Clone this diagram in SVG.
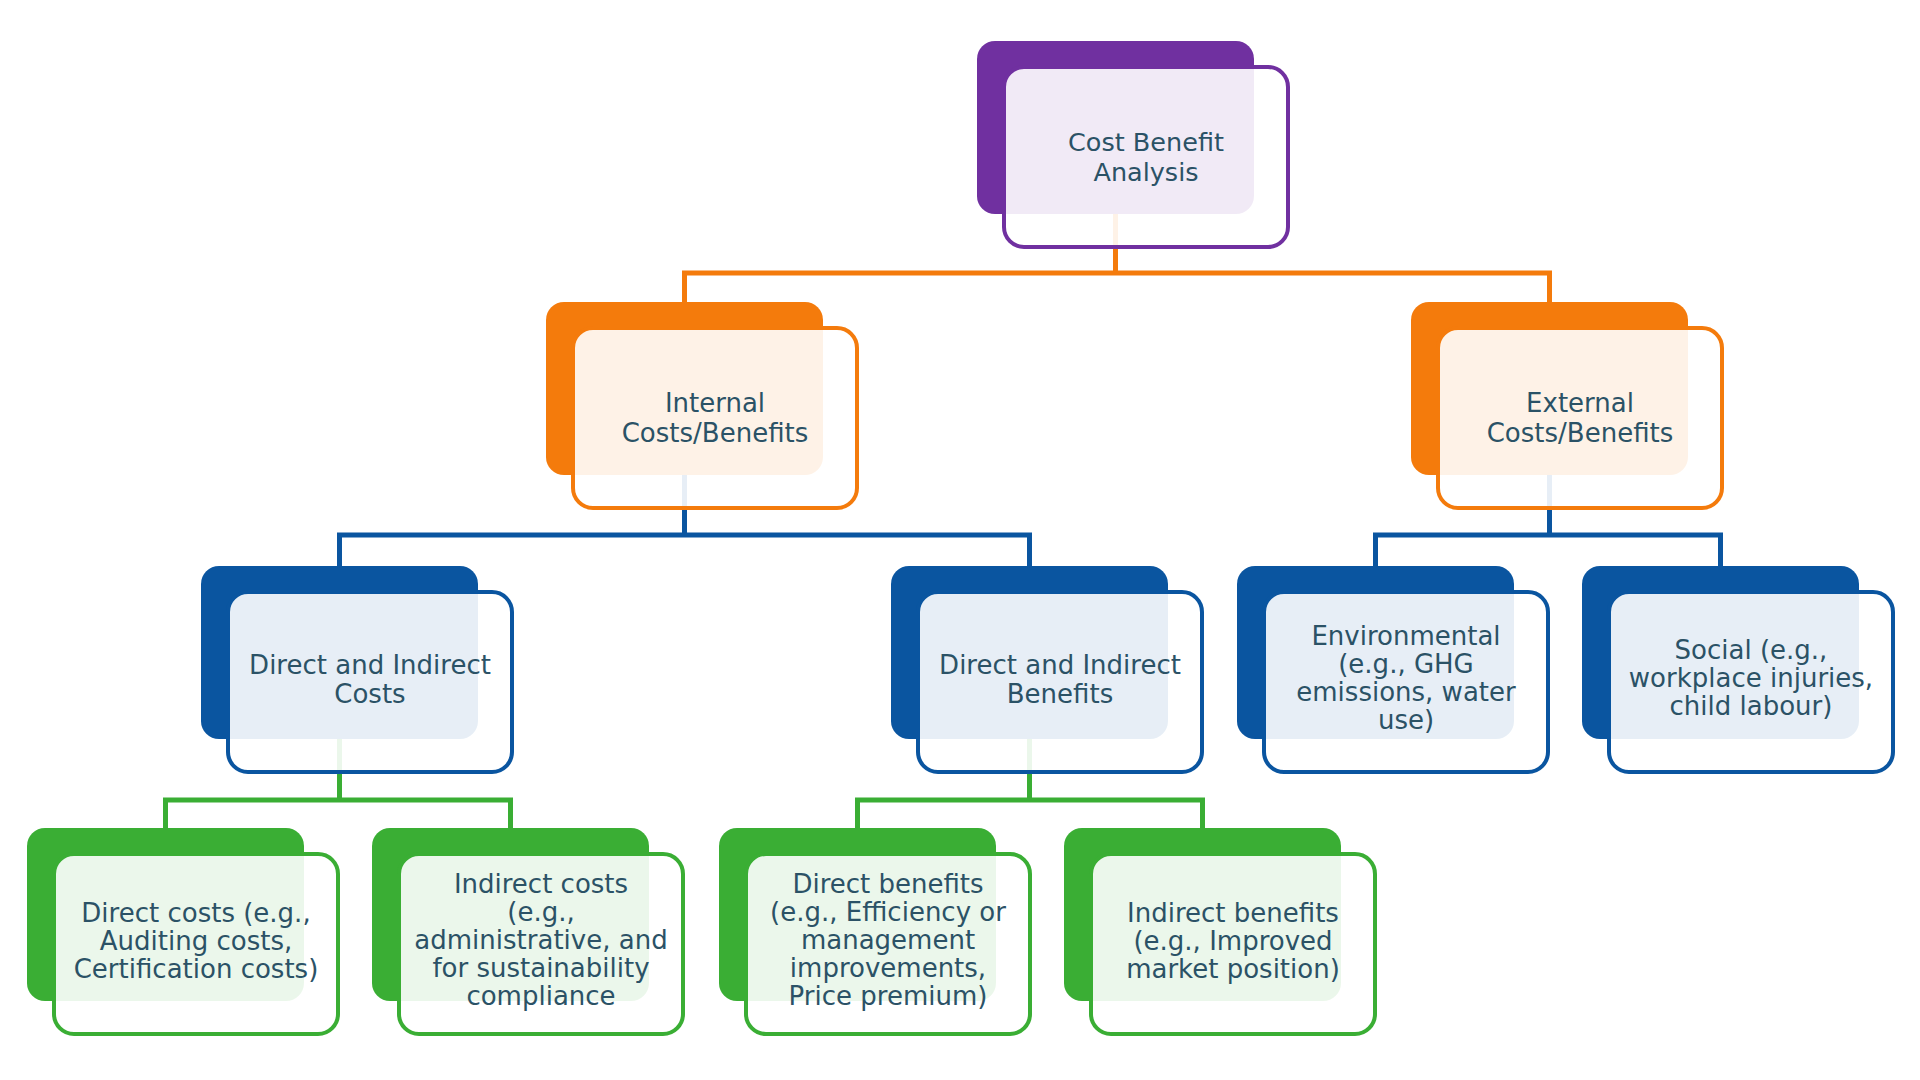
<svg xmlns="http://www.w3.org/2000/svg" width="1920" height="1080" viewBox="0 0 1920 1080">
<style>
.bg{fill:#ffffff}
.back{stroke:none}
.front{fill:#ffffff;fill-opacity:0.9;stroke-width:4}
.purple .back{fill:#7030A0}.purple .front{stroke:#7030A0}
.orange .back{fill:#F47B0C}.orange .front{stroke:#F47B0C}
.blue .back{fill:#0A55A0}.blue .front{stroke:#0A55A0}
.green .back{fill:#3AAE34}.green .front{stroke:#3AAE34}
.conn{fill:none;stroke-width:5;stroke-linejoin:miter}
.c-orange{stroke:#F47B0C}.c-blue{stroke:#0A55A0}.c-green{stroke:#3AAE34}
text{font-family:"DejaVu Sans","Liberation Sans",sans-serif;fill:#2B5266;text-anchor:middle}
.t1{font-size:25.5px}.t2{font-size:26px}.t3{font-size:26px}
</style>
<rect class="bg" x="0" y="0" width="1920" height="1080"/>
<g id="connectors">
<path class="conn c-orange" d="M684.5 302 V273 H1549.5 V302 M1115.5 214 V273"/>
<path class="conn c-blue" d="M339.5 566 V535 H1029.5 V566 M684.5 475 V535"/>
<path class="conn c-blue" d="M1375.5 566 V535 H1720.5 V566 M1549.5 475 V535"/>
<path class="conn c-green" d="M165.5 828 V800 H510.5 V828 M339.5 739 V800"/>
<path class="conn c-green" d="M857.5 828 V800 H1202.5 V828 M1029.5 739 V800"/>
</g>
<g id="node-cba" class="purple">
<rect class="back" x="977" y="41" width="277" height="173" rx="18"/>
<rect class="front" x="1004" y="67" width="284" height="180" rx="20"/>
<text class="t1"><tspan x="1146" y="151">Cost Benefit</tspan><tspan x="1146" y="181">Analysis</tspan></text>
</g>
<g id="node-internal" class="orange">
<rect class="back" x="546" y="302" width="277" height="173" rx="18"/>
<rect class="front" x="573" y="328" width="284" height="180" rx="20"/>
<text class="t2"><tspan x="715" y="412">Internal</tspan><tspan x="715" y="442">Costs/Benefits</tspan></text>
</g>
<g id="node-external" class="orange">
<rect class="back" x="1411" y="302" width="277" height="173" rx="18"/>
<rect class="front" x="1438" y="328" width="284" height="180" rx="20"/>
<text class="t2"><tspan x="1580" y="412">External</tspan><tspan x="1580" y="442">Costs/Benefits</tspan></text>
</g>
<g id="node-dic" class="blue">
<rect class="back" x="201" y="566" width="277" height="173" rx="18"/>
<rect class="front" x="228" y="592" width="284" height="180" rx="20"/>
<text class="t3"><tspan x="370" y="674">Direct and Indirect</tspan><tspan x="370" y="703">Costs</tspan></text>
</g>
<g id="node-dib" class="blue">
<rect class="back" x="891" y="566" width="277" height="173" rx="18"/>
<rect class="front" x="918" y="592" width="284" height="180" rx="20"/>
<text class="t3"><tspan x="1060" y="674">Direct and Indirect</tspan><tspan x="1060" y="703">Benefits</tspan></text>
</g>
<g id="node-env" class="blue">
<rect class="back" x="1237" y="566" width="277" height="173" rx="18"/>
<rect class="front" x="1264" y="592" width="284" height="180" rx="20"/>
<text class="t3"><tspan x="1406" y="645">Environmental</tspan><tspan x="1406" y="673">(e.g., GHG</tspan><tspan x="1406" y="701">emissions, water</tspan><tspan x="1406" y="729">use)</tspan></text>
</g>
<g id="node-social" class="blue">
<rect class="back" x="1582" y="566" width="277" height="173" rx="18"/>
<rect class="front" x="1609" y="592" width="284" height="180" rx="20"/>
<text class="t3"><tspan x="1751" y="659">Social (e.g.,</tspan><tspan x="1751" y="687">workplace injuries,</tspan><tspan x="1751" y="715">child labour)</tspan></text>
</g>
<g id="node-dc" class="green">
<rect class="back" x="27" y="828" width="277" height="173" rx="18"/>
<rect class="front" x="54" y="854" width="284" height="180" rx="20"/>
<text class="t3"><tspan x="196" y="922">Direct costs (e.g.,</tspan><tspan x="196" y="950">Auditing costs,</tspan><tspan x="196" y="978">Certification costs)</tspan></text>
</g>
<g id="node-ic" class="green">
<rect class="back" x="372" y="828" width="277" height="173" rx="18"/>
<rect class="front" x="399" y="854" width="284" height="180" rx="20"/>
<text class="t3"><tspan x="541" y="893">Indirect costs</tspan><tspan x="541" y="921">(e.g.,</tspan><tspan x="541" y="949">administrative, and</tspan><tspan x="541" y="977">for sustainability</tspan><tspan x="541" y="1005">compliance</tspan></text>
</g>
<g id="node-db" class="green">
<rect class="back" x="719" y="828" width="277" height="173" rx="18"/>
<rect class="front" x="746" y="854" width="284" height="180" rx="20"/>
<text class="t3"><tspan x="888" y="893">Direct benefits</tspan><tspan x="888" y="921">(e.g., Efficiency or</tspan><tspan x="888" y="949">management</tspan><tspan x="888" y="977">improvements,</tspan><tspan x="888" y="1005">Price premium)</tspan></text>
</g>
<g id="node-ib" class="green">
<rect class="back" x="1064" y="828" width="277" height="173" rx="18"/>
<rect class="front" x="1091" y="854" width="284" height="180" rx="20"/>
<text class="t3"><tspan x="1233" y="922">Indirect benefits</tspan><tspan x="1233" y="950">(e.g., Improved</tspan><tspan x="1233" y="978">market position)</tspan></text>
</g>
</svg>
